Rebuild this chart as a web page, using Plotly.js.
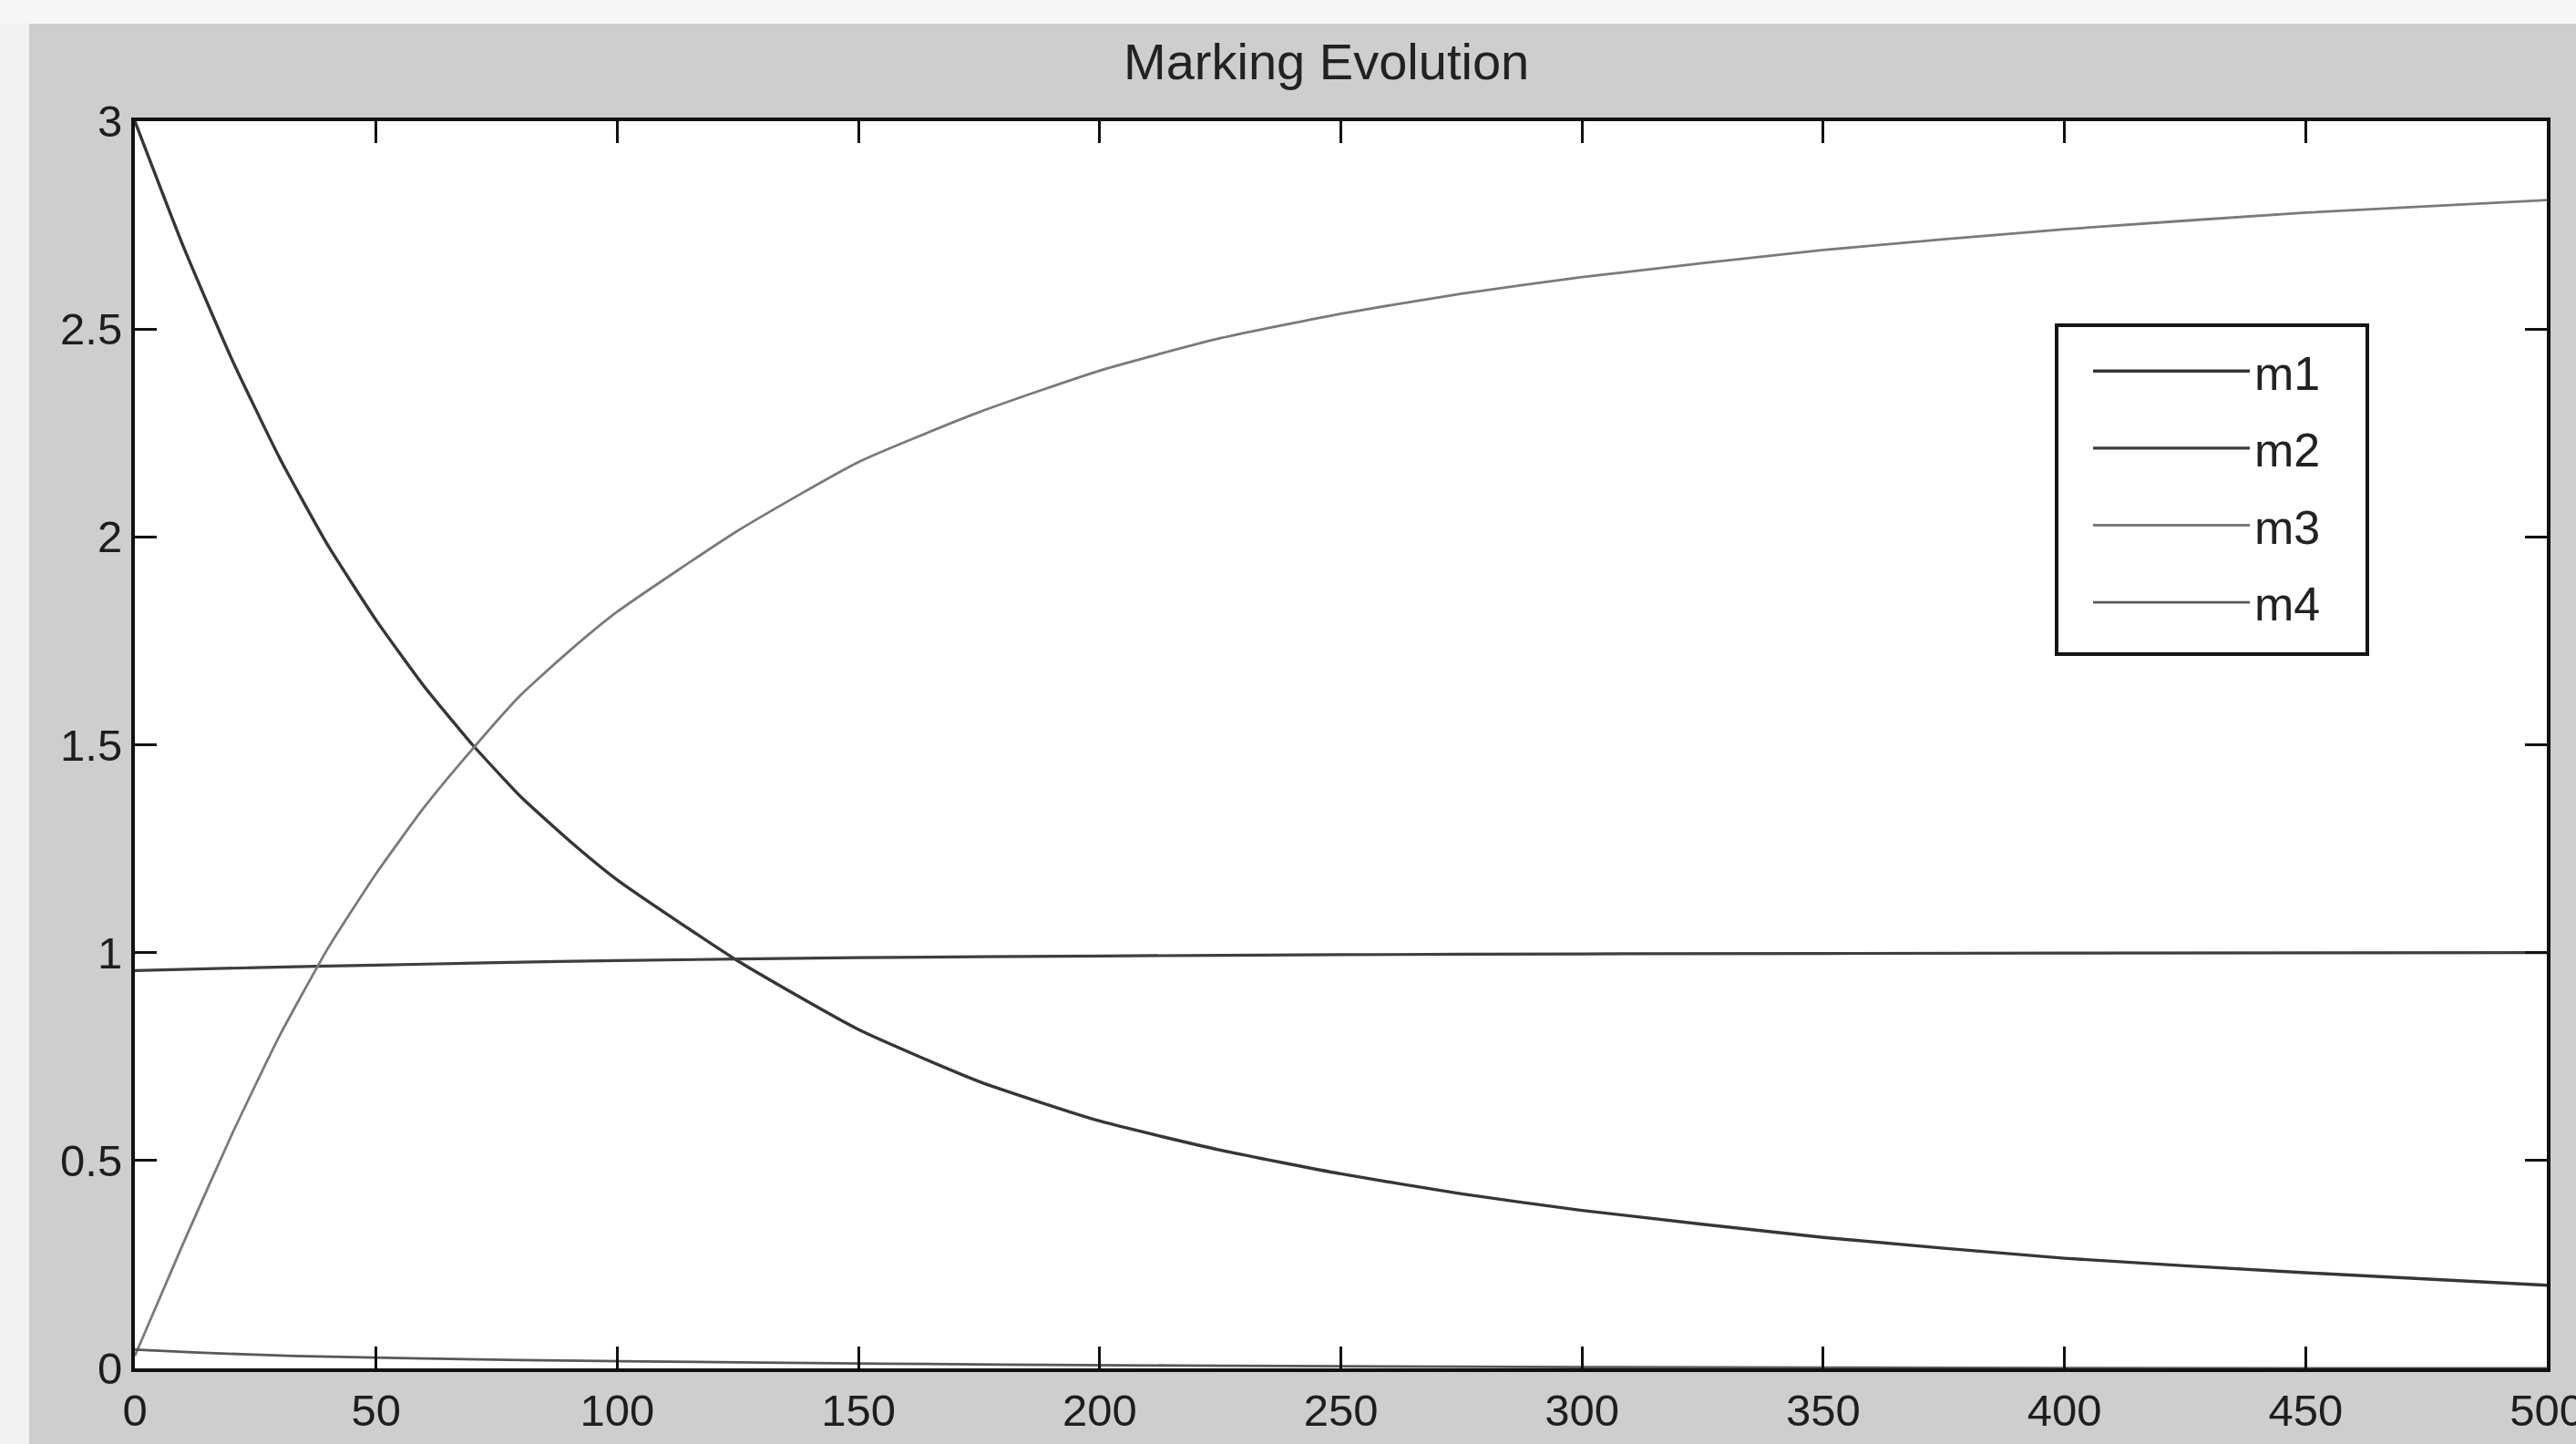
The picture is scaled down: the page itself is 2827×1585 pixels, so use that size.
<!DOCTYPE html>
<html>
<head>
<meta charset="utf-8">
<script src="https://cdn.plot.ly/plotly-3.0.1.min.js"></script>
<style>
  html, body { margin: 0; padding: 0; background: #ffffff; }
  #chart { width: 2827px; height: 1585px; }
</style>
</head>
<body>
<div id="chart"></div>
<script>
// ---- data ----
const chartTitle = "Marking Evolution";
const seriesNames = ["m1", "m2", "m3", "m4"];

const tM1 = [0, 10, 20, 30, 40, 50, 60, 70, 80, 90, 100, 125, 150, 175, 200, 225, 250, 275, 300, 350, 400, 450, 500];
const m1  = [3.0, 2.70, 2.43, 2.19, 1.98, 1.80, 1.64, 1.50, 1.375, 1.27, 1.175, 0.98, 0.815, 0.69, 0.595, 0.525, 0.468, 0.42, 0.38, 0.315, 0.265, 0.23, 0.20];

const tM2 = [0, 25, 50, 75, 100, 150, 200, 250, 300, 400, 500];
const m2  = [0.957, 0.964, 0.970, 0.976, 0.981, 0.988, 0.992, 0.995, 0.997, 0.999, 1.0];

const tM3 = [0, 10, 20, 30, 40, 50, 60, 70, 80, 90, 100, 125, 150, 175, 200, 225, 250, 275, 300, 350, 400, 450, 500];
const m3  = [0.03, 0.30, 0.56, 0.80, 1.01, 1.19, 1.35, 1.49, 1.62, 1.725, 1.82, 2.015, 2.18, 2.30, 2.40, 2.478, 2.537, 2.585, 2.625, 2.69, 2.74, 2.78, 2.81];

const tM4 = [0, 13, 33, 80, 130, 180, 250, 300, 400, 500];
const m4  = [0.045, 0.038, 0.030, 0.020, 0.014, 0.009, 0.005, 0.003, 0.001, 0.0];

const xTickVals = [0, 50, 100, 150, 200, 250, 300, 350, 400, 450, 500];
const yTickVals = [0, 0.5, 1, 1.5, 2, 2.5, 3];

// ---- styling ----
const W = 2827, H = 1585;
const M = { l: 148, r: 32, t: 133, b: 83 };
const pw = W - M.l - M.r, ph = H - M.t - M.b;
const fontFam = "'Liberation Sans', Arial, sans-serif";

function tr(x, y, name, color, width) {
  return {
    x: x, y: y, name: name, type: 'scatter', mode: 'lines',
    legendgroup: name,
    line: { color: color, width: width, shape: 'spline', smoothing: 0.5 }
  };
}

const data = [
  tr(tM1, m1, seriesNames[0], '#363636', 3.4),
  tr(tM2, m2, seriesNames[1], '#3e3e3e', 3.2),
  tr(tM3, m3, seriesNames[2], '#7a7a7a', 2.8),
  tr(tM4, m4, seriesNames[3], '#585858', 2.8)
];

const axisCommon = {
  showline: true, linecolor: '#111', linewidth: 4, mirror: 'ticks',
  ticks: 'inside', ticklen: 24, tickwidth: 3, tickcolor: '#111',
  showgrid: false, zeroline: false,
  ticklabeloverflow: 'allow',
  tickfont: { family: fontFam, size: 49, color: '#1e1e1e' },
  fixedrange: true
};

// legend box (page pixels) -> paper coordinates
const boxL = 2257, boxR = 2598, boxT = 357, boxB = 718;
const px2x = p => (p - M.l) / pw;
const py2y = p => (H - M.b - p) / ph;

const layout = {
  width: W, height: H,
  margin: M,
  paper_bgcolor: '#cecece',
  plot_bgcolor: '#ffffff',
  showlegend: true,
  title: {
    text: chartTitle,
    font: { family: fontFam, size: 56, color: '#222' },
    xref: 'paper', x: 0.494, xanchor: 'center',
    yref: 'container', y: 1 - 67 / H, yanchor: 'middle'
  },
  xaxis: Object.assign({}, axisCommon, {
    range: [0, 500], tickmode: 'array', tickvals: xTickVals
  }),
  yaxis: Object.assign({}, axisCommon, {
    range: [0, 3], tickmode: 'array', tickvals: yTickVals
  }),
  legend: {
    x: px2x(2292), xanchor: 'left',
    y: py2y(367), yanchor: 'top',
    bgcolor: 'rgba(0,0,0,0)', bordercolor: 'rgba(0,0,0,0)', borderwidth: 0,
    font: { family: fontFam, size: 52, color: '#222' },
    itemwidth: 172,
    traceorder: 'grouped', tracegroupgap: 14
  },
  shapes: [
    { type: 'rect', xref: 'paper', yref: 'paper', layer: 'below',
      x0: -M.l / pw, x1: (32 - M.l) / pw, y0: -M.b / ph, y1: (H - M.b) / ph,
      fillcolor: '#f2f2f2', line: { width: 0 } },
    { type: 'rect', xref: 'paper', yref: 'paper', layer: 'below',
      x0: -M.l / pw, x1: (W - M.l) / pw, y0: (H - M.b - 26) / ph, y1: (H - M.b) / ph,
      fillcolor: '#f7f7f7', line: { width: 0 } },
    { type: 'rect', xref: 'paper', yref: 'paper', layer: 'above',
      x0: px2x(boxL), x1: px2x(boxR), y0: py2y(boxB), y1: py2y(boxT),
      fillcolor: '#ffffff', line: { color: '#151515', width: 4 } }
  ]
};

Plotly.newPlot('chart', data, layout, { displayModeBar: false, staticPlot: true });
</script>
</body>
</html>
